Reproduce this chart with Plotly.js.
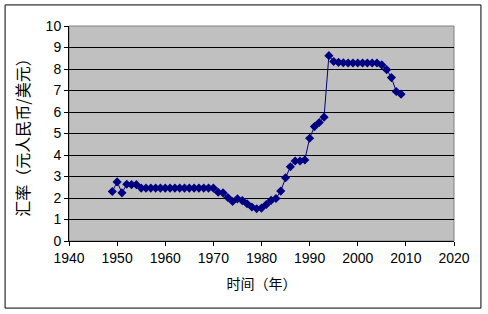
<!DOCTYPE html>
<html><head><meta charset="utf-8">
<script src="https://cdn.plot.ly/plotly-3.0.1.min.js"></script>
<style>body{margin:0;background:#fff}#c{width:488px;height:314px}</style>
</head><body><div id="c"></div>
<script>
const years = [1949,1950,1951,1952,1953,1954,1955,1956,1957,1958,1959,1960,1961,1962,1963,1964,1965,1966,1967,1968,1969,1970,1971,1972,1973,1974,1975,1976,1977,1978,1979,1980,1981,1982,1983,1984,1985,1986,1987,1988,1989,1990,1991,1992,1993,1994,1995,1996,1997,1998,1999,2000,2001,2002,2003,2004,2005,2006,2007,2008,2009];
const rates = [2.30,2.75,2.24,2.64,2.62,2.62,2.46,2.46,2.46,2.46,2.46,2.46,2.46,2.46,2.46,2.46,2.46,2.46,2.46,2.46,2.46,2.46,2.27,2.24,2.02,1.84,1.96,1.88,1.73,1.58,1.50,1.53,1.70,1.89,1.98,2.32,2.94,3.45,3.72,3.72,3.77,4.78,5.32,5.51,5.76,8.62,8.35,8.31,8.29,8.28,8.28,8.28,8.28,8.28,8.28,8.28,8.19,7.97,7.60,6.95,6.83];
const xTitle = '时间（年）';
const yTitle = '汇率（元人民币/美元）';

const fontTick = {family:'"Liberation Sans", "Noto Sans CJK SC", sans-serif', size:14, color:'#000'};

Plotly.newPlot('c', [{
  x: years, y: rates, type:'scatter', mode:'lines+markers',
  line:{color:'#000080', width:1},
  marker:{symbol:'diamond', size:7, color:'#000080'}
}], {
  width:488, height:314,
  margin:{l:69, r:34, t:26, b:73},
  paper_bgcolor:'#fff', plot_bgcolor:'#C0C0C0',
  showlegend:false,
  xaxis:{range:[1940,2020], dtick:10, tick0:1940, showgrid:false, zeroline:false,
    showline:true, linecolor:'#000', linewidth:1, ticks:'outside', ticklen:4, tickcolor:'#000',
    tickfont:fontTick, title:{text:xTitle, font:{family:'"Noto Sans CJK SC", sans-serif', size:14, color:'#000'}, standoff:14}},
  yaxis:{range:[0,10], dtick:1, showgrid:true, gridcolor:'#000', gridwidth:1, zeroline:false,
    showline:true, linecolor:'#000', linewidth:1, ticks:'outside', ticklen:4, tickcolor:'#000',
    tickfont:fontTick, title:{text:yTitle, font:{family:'"Noto Sans CJK SC", sans-serif', size:16, color:'#000'}, standoff:12}},
  shapes:[
    {type:'rect', xref:'paper', yref:'paper', x0:0, x1:1, y0:0, y1:1, line:{color:'#808080', width:1}, layer:'below'},
    {type:'rect', xref:'paper', yref:'paper', x0:-0.166, x1:1.070, y0:-0.312, y1:1.098, line:{color:'#000', width:1}}
  ]
}, {displayModeBar:false, staticPlot:true});
</script></body></html>
